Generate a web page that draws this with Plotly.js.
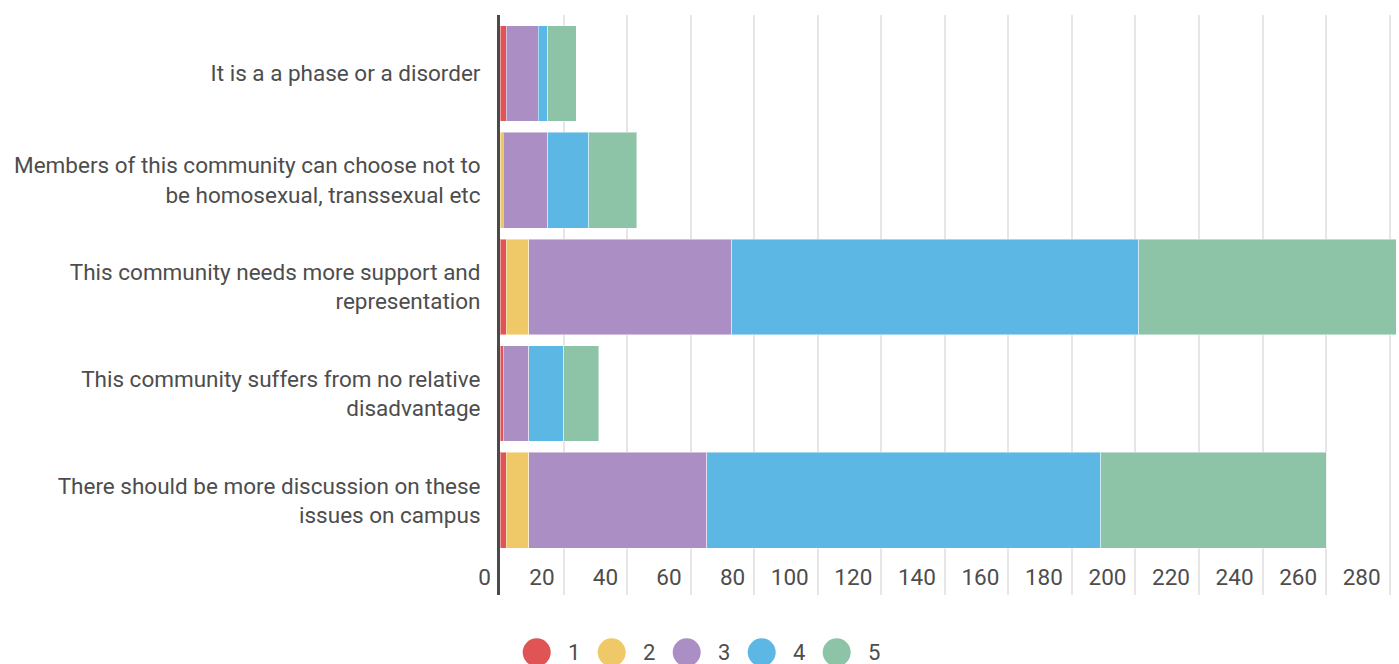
<!DOCTYPE html>
<html>
<head>
<meta charset="utf-8">
<script src="https://cdn.plot.ly/plotly-3.0.1.min.js"></script>
<style>
html,body{margin:0;padding:0;background:#fff;}
#chart{width:1399px;height:664px;}
</style>
</head>
<body>
<div id="chart"></div>
<script>
// ---- data ----
var categories = [
  "It is a a phase or a disorder",
  "Members of this community can choose not to be homosexual, transsexual etc",
  "This community needs more support and representation",
  "This community suffers from no relative disadvantage",
  "There should be more discussion on these issues on campus"
];
var categoryLabels = [
  "It is a a phase or a disorder",
  "Members of this community can choose not to<br>be homosexual, transsexual etc",
  "This community needs more support and<br>representation",
  "This community suffers from no relative<br>disadvantage",
  "There should be more discussion on these<br>issues on campus"
];
var seriesNames = ["1", "2", "3", "4", "5"];
var values1 = [2, 0, 2, 1, 2];
var values2 = [0, 1, 7, 0, 7];
var values3 = [10, 14, 64, 8, 56];
var values4 = [3, 13, 128, 11, 124];
var values5 = [9, 15, 81, 11, 71];
var xTickValues = [0, 20, 40, 60, 80, 100, 120, 140, 160, 180, 200, 220, 240, 260, 280];

// ---- styles ----
var colors = ["#e05456", "#efc968", "#ab8fc4", "#5db7e5", "#8dc4a8"];
var allValues = [values1, values2, values3, values4, values5];
var textColor = "#4d4d4d";
var fontFamily = "Roboto, 'Noto Sans', sans-serif";

var W = 1399, H = 664;
var margin = {l: 500, r: 3, t: 15, b: 69};
var plotW = W - margin.l - margin.r;
var plotH = H - margin.t - margin.b;

var traces = seriesNames.map(function (name, i) {
  return {
    type: "bar",
    orientation: "h",
    name: name,
    y: categories,
    x: allValues[i],
    marker: {color: colors[i], line: {color: "rgba(255,255,255,0.45)", width: 1}},
    showlegend: false,
    hoverinfo: "x+name"
  };
});

// custom legend with large circles
var shapes = [];
var annotations = [];
var legendStartPx = 536.7, legendStep = 75, legendYPx = 652.3;
seriesNames.forEach(function (name, i) {
  var cx = legendStartPx + legendStep * i;
  var xp = (cx - margin.l) / plotW;
  var yp = (H - margin.b - legendYPx) / plotH;
  shapes.push({
    type: "circle", xref: "paper", yref: "paper",
    xsizemode: "pixel", ysizemode: "pixel",
    xanchor: xp, yanchor: yp,
    x0: -14, x1: 14, y0: -14, y1: 14,
    fillcolor: colors[i], line: {width: 0}
  });
  annotations.push({
    xref: "paper", yref: "paper",
    x: (cx + 37.5 - margin.l) / plotW, y: yp,
    xanchor: "center", yanchor: "middle",
    text: name, showarrow: false,
    font: {family: fontFamily, size: 22, color: textColor}
  });
});

var layout = {
  width: W, height: H,
  margin: margin,
  paper_bgcolor: "#ffffff",
  plot_bgcolor: "#ffffff",
  barmode: "stack",
  bargap: 0.103,
  showlegend: false,
  font: {family: fontFamily, color: textColor},
  xaxis: {
    range: [0, 282],
    tickmode: "array",
    tickvals: xTickValues,
    ticktext: xTickValues.map(String),
    ticks: "",
    ticklabelposition: "inside left",
    ticklabeloverflow: "allow",
    ticklabelshift: -9,
    tickfont: {family: fontFamily, size: 22.5, color: textColor},
    showgrid: true,
    gridcolor: "#e6e6e6",
    gridwidth: 2,
    zeroline: false,
    showline: false,
    fixedrange: true
  },
  yaxis: {
    type: "category",
    categoryorder: "array",
    categoryarray: categories,
    tickmode: "array",
    tickvals: categories,
    ticktext: categoryLabels,
    range: [4.887, -0.548],
    autorange: false,
    ticks: "outside",
    ticklen: 12,
    tickcolor: "rgba(0,0,0,0)",
    tickfont: {family: fontFamily, size: 22.5, color: textColor},
    showgrid: false,
    zeroline: false,
    showline: true,
    linecolor: "#4a4a4a",
    linewidth: 3,
    fixedrange: true
  },
  shapes: shapes,
  annotations: annotations
};

Plotly.newPlot("chart", traces, layout, {displayModeBar: false, staticPlot: true});
</script>
</body>
</html>
